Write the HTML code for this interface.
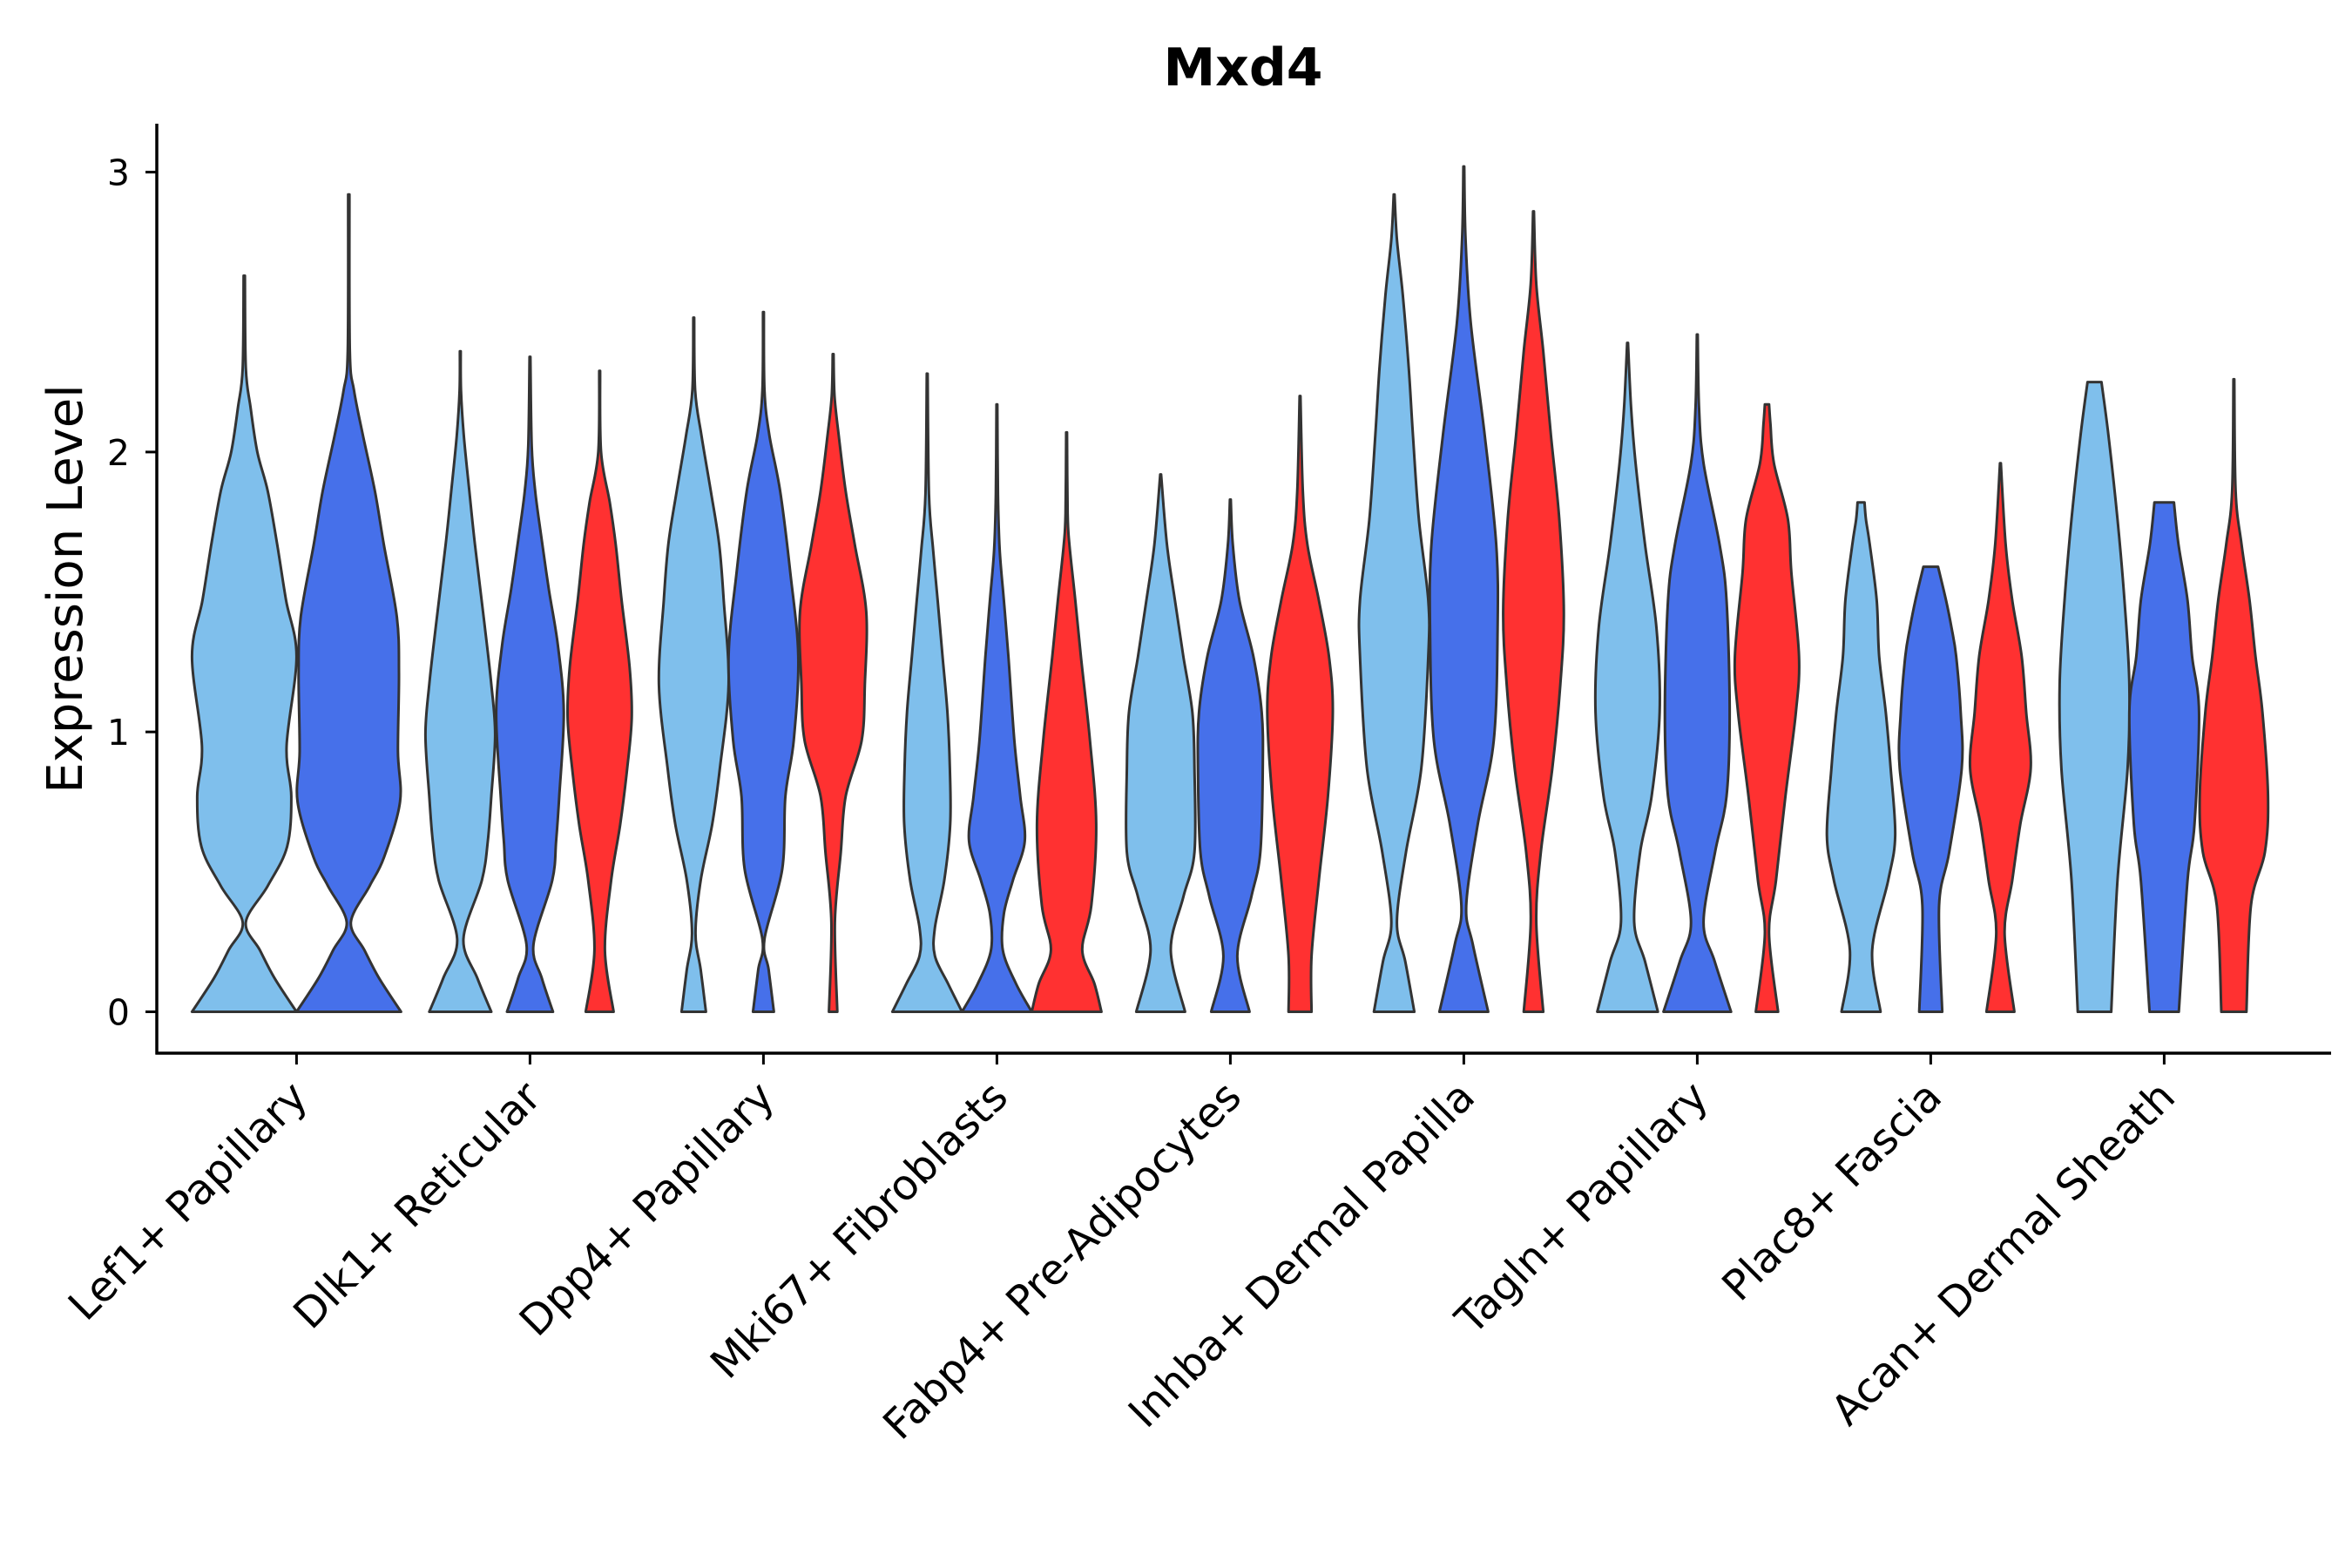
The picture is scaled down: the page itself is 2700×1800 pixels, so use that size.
<!DOCTYPE html>
<html><head><meta charset="utf-8"><style>
html,body{margin:0;padding:0;background:#fff}
svg{display:block}
text{font-family:"DejaVu Sans","Liberation Sans",sans-serif}
</style></head><body>
<svg id="chart" width="2700" height="1800" viewBox="0 0 2700 1800" xmlns="http://www.w3.org/2000/svg">
<rect width="2700" height="1800" fill="#fff"/>
<text x="1427" y="98" text-anchor="middle" font-size="60" font-weight="bold">Mxd4</text>
<text transform="translate(94,676) rotate(-90)" text-anchor="middle" font-size="56">Expression Level</text>
<g id="violins"></g>
<g id="axes"></g>
</svg>
<script>
const categories = ["Lef1+ Papillary","Dlk1+ Reticular","Dpp4+ Papillary","Mki67+ Fibroblasts","Fabp4+ Pre-Adipocytes","Inhba+ Dermal Papilla","Tagln+ Papillary","Plac8+ Fascia","Acan+ Dermal Sheath"];
const yTicks = [0,1,2,3];
const seriesColors = ["#7fbfec","#4670ea","#ff3131"];
const seriesPerCategory = [[0,1],[0,1,2],[0,1,2],[0,1,2],[0,1,2],[0,1,2],[0,1,2],[0,1,2],[0,1,2]];
// density profiles: [value, relative half-width]
const violinProfiles = [
[[[0,1],[0.12,0.58],[0.22,0.3],[0.32,0.03],[0.45,0.45],[0.59,0.82],[0.77,0.9],[0.95,0.81],[1.27,1.0],[1.47,0.8],[1.67,0.63],[1.86,0.45],[2.0,0.25],[2.16,0.12],[2.3,0.03],[2.63,0.012]],
 [[0,1],[0.12,0.58],[0.22,0.3],[0.32,0.04],[0.45,0.4],[0.55,0.67],[0.75,0.98],[0.93,0.94],[1.21,0.96],[1.41,0.92],[1.67,0.67],[1.86,0.5],[2.06,0.27],[2.22,0.1],[2.36,0.02],[2.92,0.012]]],
[[[0,0.89],[0.12,0.49],[0.26,0.09],[0.47,0.62],[0.61,0.79],[0.77,0.89],[0.99,1.0],[1.17,0.89],[1.39,0.69],[1.67,0.42],[1.86,0.26],[2.06,0.1],[2.22,0.02],[2.36,0.012]],
 [[0,0.66],[0.12,0.34],[0.24,0.1],[0.47,0.64],[0.61,0.75],[0.77,0.84],[1.07,0.97],[1.31,0.8],[1.51,0.54],[1.71,0.31],[1.86,0.15],[2.02,0.05],[2.34,0.012]],
 [[0,0.4],[0.22,0.15],[0.47,0.33],[0.67,0.59],[0.87,0.79],[1.05,0.92],[1.23,0.86],[1.47,0.63],[1.67,0.46],[1.82,0.29],[2.0,0.04],[2.29,0.012]]],
[[[0,0.35],[0.15,0.2],[0.28,0.05],[0.47,0.2],[0.67,0.53],[0.87,0.75],[1.17,1.0],[1.47,0.86],[1.67,0.73],[1.86,0.49],[2.06,0.22],[2.22,0.04],[2.48,0.012]],
 [[0,0.3],[0.15,0.15],[0.26,0.03],[0.51,0.54],[0.77,0.63],[0.97,0.87],[1.27,1.0],[1.57,0.77],[1.86,0.48],[2.06,0.17],[2.22,0.03],[2.5,0.012]],
 [[0,0.12],[0.32,0.05],[0.57,0.22],[0.77,0.36],[0.97,0.82],[1.17,0.91],[1.43,0.95],[1.67,0.62],[1.86,0.36],[2.06,0.16],[2.2,0.04],[2.35,0.012]]],
[[[0,1],[0.1,0.6],[0.2,0.22],[0.3,0.22],[0.47,0.49],[0.67,0.66],[0.87,0.65],[1.07,0.58],[1.27,0.44],[1.47,0.3],[1.65,0.17],[1.85,0.05],[2.28,0.012]],
 [[0,1],[0.1,0.55],[0.22,0.17],[0.35,0.2],[0.47,0.46],[0.61,0.8],[0.77,0.67],[0.97,0.5],[1.27,0.33],[1.47,0.2],[1.65,0.08],[1.85,0.03],[2.17,0.012]],
 [[0,1],[0.1,0.8],[0.22,0.45],[0.38,0.71],[0.67,0.85],[0.97,0.67],[1.27,0.41],[1.47,0.25],[1.67,0.08],[1.78,0.03],[2.07,0.012]]],
[[[0,0.7],[0.22,0.29],[0.41,0.65],[0.57,0.97],[0.87,0.97],[1.07,0.91],[1.27,0.65],[1.47,0.41],[1.67,0.18],[1.92,0.012]],
 [[0,0.55],[0.2,0.2],[0.41,0.6],[0.57,0.86],[0.87,0.93],[1.07,0.9],[1.27,0.66],[1.47,0.26],[1.67,0.07],[1.83,0.012]],
 [[0,0.33],[0.2,0.33],[0.47,0.54],[0.77,0.8],[1.07,0.94],[1.27,0.83],[1.47,0.54],[1.67,0.21],[1.86,0.08],[2.2,0.012]]],
[[[0,0.58],[0.18,0.32],[0.32,0.08],[0.57,0.34],[0.87,0.78],[1.27,0.98],[1.47,0.98],[1.76,0.71],[2.06,0.54],[2.3,0.42],[2.56,0.25],[2.76,0.08],[2.92,0.012]],
 [[0,0.7],[0.24,0.26],[0.38,0.07],[0.67,0.4],[0.97,0.86],[1.37,0.97],[1.67,0.93],[2.06,0.6],[2.46,0.2],[2.76,0.05],[3.02,0.012]],
 [[0,0.28],[0.32,0.08],[0.57,0.21],[0.87,0.54],[1.17,0.77],[1.43,0.87],[1.76,0.74],[2.06,0.5],[2.36,0.28],[2.6,0.08],[2.86,0.012]]],
[[[0,0.87],[0.18,0.5],[0.32,0.19],[0.57,0.36],[0.77,0.69],[1.07,0.92],[1.37,0.83],[1.67,0.5],[1.96,0.23],[2.16,0.1],[2.39,0.012]],
 [[0,0.97],[0.18,0.5],[0.32,0.18],[0.57,0.51],[0.77,0.84],[1.07,0.93],[1.47,0.84],[1.67,0.64],[1.96,0.18],[2.16,0.05],[2.42,0.012]],
 [[0,0.32],[0.28,0.06],[0.47,0.26],[0.77,0.53],[1.07,0.83],[1.27,0.92],[1.57,0.7],[1.76,0.6],[1.96,0.2],[2.1,0.1],[2.17,0.06]]],
[[[0,0.56],[0.22,0.32],[0.47,0.78],[0.63,0.98],[0.87,0.85],[1.07,0.71],[1.27,0.52],[1.47,0.45],[1.67,0.25],[1.76,0.14],[1.82,0.1]],
 [[0,0.33],[0.38,0.24],[0.57,0.53],[0.87,0.89],[1.07,0.86],[1.27,0.73],[1.37,0.6],[1.47,0.44],[1.59,0.21]],
 [[0,0.4],[0.28,0.12],[0.47,0.34],[0.67,0.57],[0.87,0.87],[1.07,0.74],[1.27,0.61],[1.47,0.34],[1.67,0.15],[1.96,0.012]]],
[[[0,0.48],[0.47,0.66],[0.87,0.95],[1.17,1.0],[1.47,0.86],[1.76,0.66],[2.06,0.4],[2.25,0.2]],
 [[0,0.42],[0.47,0.67],[0.67,0.87],[1.07,1.0],[1.27,0.8],[1.47,0.67],[1.67,0.41],[1.82,0.28]],
 [[0,0.36],[0.38,0.49],[0.57,0.89],[0.77,0.98],[1.07,0.82],[1.27,0.62],[1.47,0.45],[1.67,0.22],[1.86,0.05],[2.26,0.012]]]
];

const NS="http://www.w3.org/2000/svg";
const X0=180, X1=2676, Ybot=1209, Ytop=142;
const yScale=v=>1161.5-v*321.3;
const xScale=i=>340.4+i*268;
function mk(tag,attrs,parent){const e=document.createElementNS(NS,tag);for(const k in attrs)e.setAttribute(k,attrs[k]);parent.appendChild(e);return e;}
function smooth(pts){let d="";for(let i=0;i<pts.length-1;i++){const p0=pts[Math.max(i-1,0)],p1=pts[i],p2=pts[i+1],p3=pts[Math.min(i+2,pts.length-1)];
const c1=[p1[0]+(p2[0]-p0[0])/6,p1[1]+(p2[1]-p0[1])/6],c2=[p2[0]-(p3[0]-p1[0])/6,p2[1]-(p3[1]-p1[1])/6];
d+=` C${c1[0].toFixed(2)},${c1[1].toFixed(2)} ${c2[0].toFixed(2)},${c2[1].toFixed(2)} ${p2[0].toFixed(2)},${p2[1].toFixed(2)}`;}return d;}
const vg=document.getElementById('violins');
categories.forEach((cat,ci)=>{
  const ser=seriesPerCategory[ci];const n=ser.length;
  const slot=n===2?120:80, half=n===2?60:40;
  ser.forEach((s,si)=>{
    const cx=xScale(ci)+(si-(n-1)/2)*slot;
    const prof=violinProfiles[ci][si];
    const right=prof.map(p=>[cx+p[1]*half,yScale(p[0])]);
    const left=prof.slice().reverse().map(p=>[cx-p[1]*half,yScale(p[0])]);
    let d=`M${right[0][0]},${right[0][1]}`+smooth(right)+` L${left[0][0]},${left[0][1]}`+smooth(left)+" Z";
    const path=mk('path',{d:d,fill:seriesColors[s],stroke:'#333','stroke-width':3,'stroke-linejoin':'round'},vg);
    
    
  });
});
const ag=document.getElementById('axes');
const ya=mk('line',{x1:X0,y1:Ytop,x2:X0,y2:Ybot+1.5,stroke:'#000','stroke-width':3.5},ag);


const xa=mk('line',{x1:X0-1.5,y1:Ybot,x2:X1,y2:Ybot,stroke:'#000','stroke-width':3.5},ag);


yTicks.forEach(t=>{const y=yScale(t);
  const l=mk('line',{x1:X0-13,y1:y,x2:X0,y2:y,stroke:'#000','stroke-width':3},ag);
  
  
  const tx=mk('text',{x:X0-31,y:y+15,'text-anchor':'end','font-size':41},ag);tx.textContent=t;
  
  
});
categories.forEach((cat,ci)=>{const x=xScale(ci);
  const l=mk('line',{x1:x,y1:Ybot,x2:x,y2:Ybot+13,stroke:'#000','stroke-width':3},ag);
  
  
  const tx=mk('text',{transform:`translate(${x+15},${Ybot+53}) rotate(-45)`,'text-anchor':'end','font-size':48},ag);tx.textContent=cat;
  
  
});
</script>
</body></html>
